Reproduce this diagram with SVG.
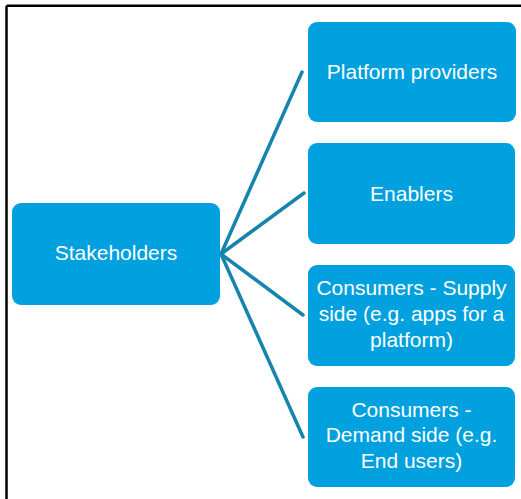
<svg xmlns="http://www.w3.org/2000/svg" width="521" height="499" viewBox="0 0 521 499">
  <style>
    .box { fill: #00A1DE; }
    .lbl { fill: #ffffff; font-family: "Liberation Sans", Arial, sans-serif; font-size: 21px; text-anchor: middle; }
    .conn { stroke: #1784AD; stroke-width: 3.5; fill: none; stroke-linecap: round; }
  </style>
  <rect x="0" y="0" width="521" height="499" fill="#ffffff"/>
  <g id="frame">
    <line x1="6.5" y1="5.8" x2="521" y2="5.8" stroke="#000" stroke-width="2.5"/>
    <line x1="6.5" y1="5.8" x2="6.5" y2="499" stroke="#000" stroke-width="2.5"/>
  </g>
  <g id="connectors">
    <line class="conn" x1="221" y1="254" x2="302" y2="72"/>
    <line class="conn" x1="221" y1="254" x2="304" y2="193"/>
    <line class="conn" x1="221" y1="254" x2="303" y2="315"/>
    <line class="conn" x1="221" y1="254" x2="303" y2="437"/>
  </g>
  <g id="stakeholders">
    <rect class="box" x="12" y="203" width="208" height="102" rx="9"/>
    <text class="lbl" x="116" y="260">Stakeholders</text>
  </g>
  <g id="platform-providers">
    <rect class="box" x="308" y="22" width="208" height="100" rx="9"/>
    <text class="lbl" x="412" y="79">Platform providers</text>
  </g>
  <g id="enablers">
    <rect class="box" x="308" y="143" width="207" height="101" rx="9"/>
    <text class="lbl" x="411.5" y="200.5">Enablers</text>
  </g>
  <g id="consumers-supply">
    <rect class="box" x="308" y="265" width="207" height="101" rx="9"/>
    <text class="lbl" x="411.5" y="295">Consumers - Supply</text>
    <text class="lbl" x="411.5" y="321">side (e.g. apps for a</text>
    <text class="lbl" x="411.5" y="347">platform)</text>
  </g>
  <g id="consumers-demand">
    <rect class="box" x="308" y="387" width="207" height="100" rx="9"/>
    <text class="lbl" x="411.5" y="417">Consumers -</text>
    <text class="lbl" x="411.5" y="442">Demand side (e.g.</text>
    <text class="lbl" x="411.5" y="468">End users)</text>
  </g>
</svg>
